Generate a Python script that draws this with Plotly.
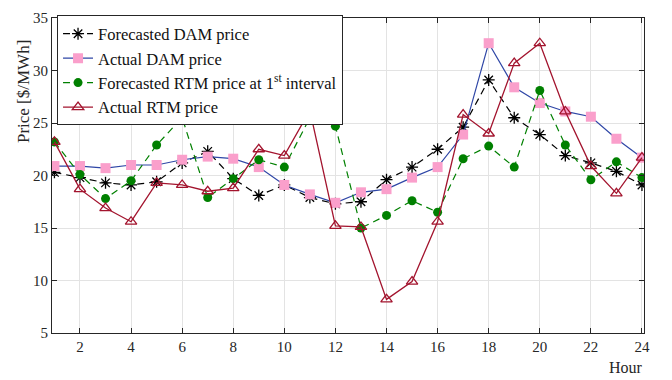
import plotly.graph_objects as go

hours = list(range(1, 25))
forecast_dam = [20.3, 19.8, 19.3, 19.1, 19.4, 21.2, 22.3, 19.7, 18.1, 19.1, 17.9, 17.3,
                17.5, 19.6, 20.8, 22.5, 24.6, 29.1, 25.5, 23.9, 21.9, 21.2, 20.4, 19.1]
actual_dam = [20.9, 20.9, 20.7, 21.0, 21.0, 21.5, 21.8, 21.6, 20.8, 19.1, 18.2, 17.4,
              18.4, 18.7, 19.8, 20.8, 23.9, 32.6, 28.4, 26.9, 26.1, 25.6, 23.5, 21.7]
forecast_rtm = [23.2, 20.1, 17.8, 19.5, 22.9, 25.5, 17.9, 19.7, 21.5, 20.8, 25.5, 24.7,
                15.0, 16.2, 17.6, 16.5, 21.6, 22.8, 20.8, 28.1, 22.9, 19.6, 21.3, 19.8]
actual_rtm = [23.2, 18.7, 16.9, 15.6, 19.3, 19.1, 18.5, 18.8, 22.5, 21.9, 26.2, 15.2,
              15.1, 8.2, 9.9, 15.6, 25.8, 24.0, 30.7, 32.6, 26.1, 20.9, 18.3, 21.7]

names = ["Forecasted DAM price", "Actual DAM price",
         "Forecasted RTM price at 1<sup>st</sup> interval", "Actual RTM price"]
x_ticks = list(range(2, 25, 2))
y_ticks = list(range(5, 36, 5))

SERIF = "Liberation Serif"
fig = go.Figure()
fig.add_trace(go.Scatter(
    x=hours, y=forecast_dam, name=names[0], mode="lines+markers",
    line=dict(color="black", width=1.2, dash="7px,5px"),
    marker=dict(symbol="asterisk-open", size=10, line=dict(color="#1f3594", width=1.3))))
fig.add_trace(go.Scatter(
    x=hours, y=actual_dam, name=names[1], mode="lines+markers",
    line=dict(color="#2e46a6", width=1.2),
    marker=dict(symbol="square", size=10, color="#fa9fcb", line=dict(width=0))))
fig.add_trace(go.Scatter(
    x=hours, y=forecast_rtm, name=names[2], mode="lines+markers",
    line=dict(color="#008000", width=1.2, dash="7px,5px"),
    marker=dict(symbol="circle", size=9, color="#008000", line=dict(width=0))))
fig.add_trace(go.Scatter(
    x=hours, y=actual_rtm, name=names[3], mode="lines+markers",
    line=dict(color="#a3142e", width=1.3),
    marker=dict(symbol="triangle-up-open", size=10, line=dict(color="#a3142e", width=1.3))))

axis_common = dict(showline=True, linecolor="#262626", linewidth=1, mirror="ticks",
                   ticks="inside", ticklen=5, tickcolor="#262626",
                   showgrid=True, gridcolor="#e3e3e3", gridwidth=1, zeroline=False,
                   tickfont=dict(family=SERIF, size=15, color="#262626"))
fig.update_xaxes(range=[0.905, 24.08], tickvals=x_ticks, **axis_common)
fig.update_yaxes(range=[5, 35], tickvals=y_ticks, **axis_common)

fig.update_layout(
    width=672, height=380,
    margin=dict(l=52, r=28, t=10, b=47),
    plot_bgcolor="white", paper_bgcolor="white",
    font=dict(family=SERIF, color="#262626"),
    legend=dict(x=0.0085, y=1.008, xanchor="left", yanchor="top",
                bgcolor="white", bordercolor="#262626", borderwidth=1,
                font=dict(family=SERIF, size=16.5, color="#111111"),
                tracegroupgap=0),
    annotations=[
        dict(text="Price [$/MWh]", xref="paper", yref="paper", x=-0.049, y=0.768,
             textangle=-90, showarrow=False, xanchor="center", yanchor="middle",
             font=dict(family=SERIF, size=17, color="#262626")),
        dict(text="Hour", xref="paper", yref="paper", x=0.9696, y=-0.111,
             showarrow=False, xanchor="center", yanchor="middle",
             font=dict(family=SERIF, size=16, color="#262626")),
    ],
)

fig.write_html("out.html")
